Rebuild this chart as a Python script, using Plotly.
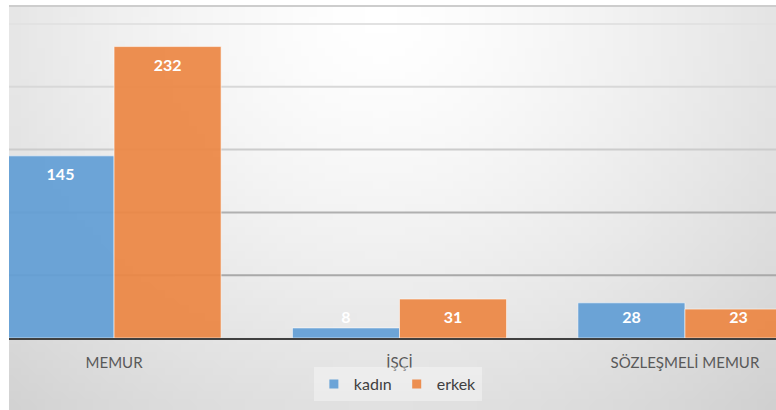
import base64
import struct
import zlib
import plotly.graph_objects as go

# ---- data ----
categories = ["MEMUR", "İŞÇİ", "SÖZLEŞMELİ MEMUR"]
kadin = [145, 8, 28]
erkek = [232, 31, 23]
series_names = ["kadın", "erkek"]
grid_ticks = [50, 100, 150, 200, 250]

# ---- style ----
W, H = 776, 410
M_L, M_R, M_T, M_B = 9, 0, 6, 72
BLUE = "rgba(98,158,213,0.93)"
ORANGE = "rgba(236,134,68,0.93)"
FONT = "Lato"
grid_colors = {50: "#a9a9a9", 100: "#b0b0b0", 150: "#cccccc", 200: "#d8d8d8", 250: "#e2e2e2"}


def gradient_png(w, h):
    """Soft radial grey gradient (light near top centre, darker toward corners)."""
    cx, cy, rx, ry = 380.0, 20.0, 520.0, 470.0
    x0, y0, x1, y1 = 9.0, 5.0, 776.0, 410.0
    rows = []
    for j in range(h):
        sy = y0 + (j + 0.5) / h * (y1 - y0)
        row = bytearray([0])
        for i in range(w):
            sx = x0 + (i + 0.5) / w * (x1 - x0)
            t = (((sx - cx) / rx) ** 2 + ((sy - cy) / ry) ** 2) ** 0.5
            t = min(t, 1.12)
            v = int(round(255 - 40 * t ** 1.4))
            v = max(0, min(255, v))
            row += bytes([v, v, v])
        rows.append(bytes(row))
    raw = b"".join(rows)

    def chunk(tag, data):
        return (struct.pack(">I", len(data)) + tag + data
                + struct.pack(">I", zlib.crc32(tag + data) & 0xFFFFFFFF))

    png = (b"\x89PNG\r\n\x1a\n"
           + chunk(b"IHDR", struct.pack(">IIBBBBB", w, h, 8, 2, 0, 0, 0))
           + chunk(b"IDAT", zlib.compress(raw, 9))
           + chunk(b"IEND", b""))
    return "data:image/png;base64," + base64.b64encode(png).decode()


plot_h = H - M_T - M_B
y_top = 264.3  # axis maximum

fig = go.Figure()

values = [kadin, erkek]
colors = [BLUE, ORANGE]
groups = ["k", "e"]
for name, vals, col, g in zip(series_names, values, colors, groups):
    fig.add_trace(go.Bar(
        x=categories, y=vals, name=name,
        marker=dict(color=col, line=dict(color="rgba(255,255,255,0.55)", width=1)),
        offsetgroup=g, alignmentgroup="a", showlegend=False,
        hoverinfo="x+y",
    ))

# data labels (white, bold, just inside the top of each bar)
for name, vals, g in zip(series_names, values, groups):
    fig.add_trace(go.Scatter(
        x=categories, y=[max(v - 16, 15) for v in vals],
        text=[str(v) for v in vals], mode="text",
        textfont=dict(family=FONT, size=16, color="white", weight="bold"),
        offsetgroup=g, alignmentgroup="a", showlegend=False, hoverinfo="skip",
    ))

# legend entries
for name, col in zip(series_names, colors):
    fig.add_trace(go.Scatter(
        x=[None], y=[None], mode="markers", name=name,
        marker=dict(symbol="square", size=9, color=col),
    ))

shapes = []
for t in grid_ticks:
    shapes.append(dict(type="line", xref="paper", yref="y", x0=0, x1=1, y0=t, y1=t,
                       line=dict(color=grid_colors[t], width=2), layer="below"))
# top border of the chart area
shapes.append(dict(type="line", xref="paper", yref="paper", x0=0, x1=1.01, y0=1.0, y1=1.0,
                   line=dict(color="#cdcdcd", width=2), layer="above"))

fig.update_layout(
    width=W, height=H,
    margin=dict(l=M_L, r=M_R, t=M_T, b=M_B, pad=0),
    paper_bgcolor="white",
    plot_bgcolor="rgba(0,0,0,0)",
    barmode="group", bargap=0.25, bargroupgap=0,
    scattermode="group", scattergap=0.25,
    font=dict(family=FONT, size=15, color="#595959"),
    showlegend=True,
    legend=dict(orientation="h", x=0.507, y=-0.139, xanchor="center", yanchor="middle",
                bgcolor="rgba(255,255,255,0.35)", font=dict(family=FONT, size=16, color="#404040"),
                itemwidth=30, traceorder="normal"),
    images=[dict(source=gradient_png(96, 52), xref="paper", yref="paper",
                 x=0, y=1 + 1.0 / plot_h, sizex=1.0, sizey=(H - 5) / plot_h,
                 xanchor="left", yanchor="top", sizing="stretch", layer="below")],
    shapes=shapes,
)

fig.update_xaxes(
    type="category", range=[-0.368, 2.319],
    showline=True, linecolor="#404040", linewidth=2,
    ticks="outside", ticklen=10, tickcolor="rgba(0,0,0,0)",
    tickfont=dict(family=FONT, size=15, color="#595959"),
    showgrid=False, zeroline=False, fixedrange=True,
)
fig.update_yaxes(
    range=[0, y_top], tickvals=grid_ticks, showticklabels=False,
    showgrid=False, zeroline=False, showline=False, fixedrange=True,
)

fig.write_html(
    "out.html",
    config={"displayModeBar": False},
    post_script="document.body.style.margin='0';document.body.style.overflow='hidden';",
)
